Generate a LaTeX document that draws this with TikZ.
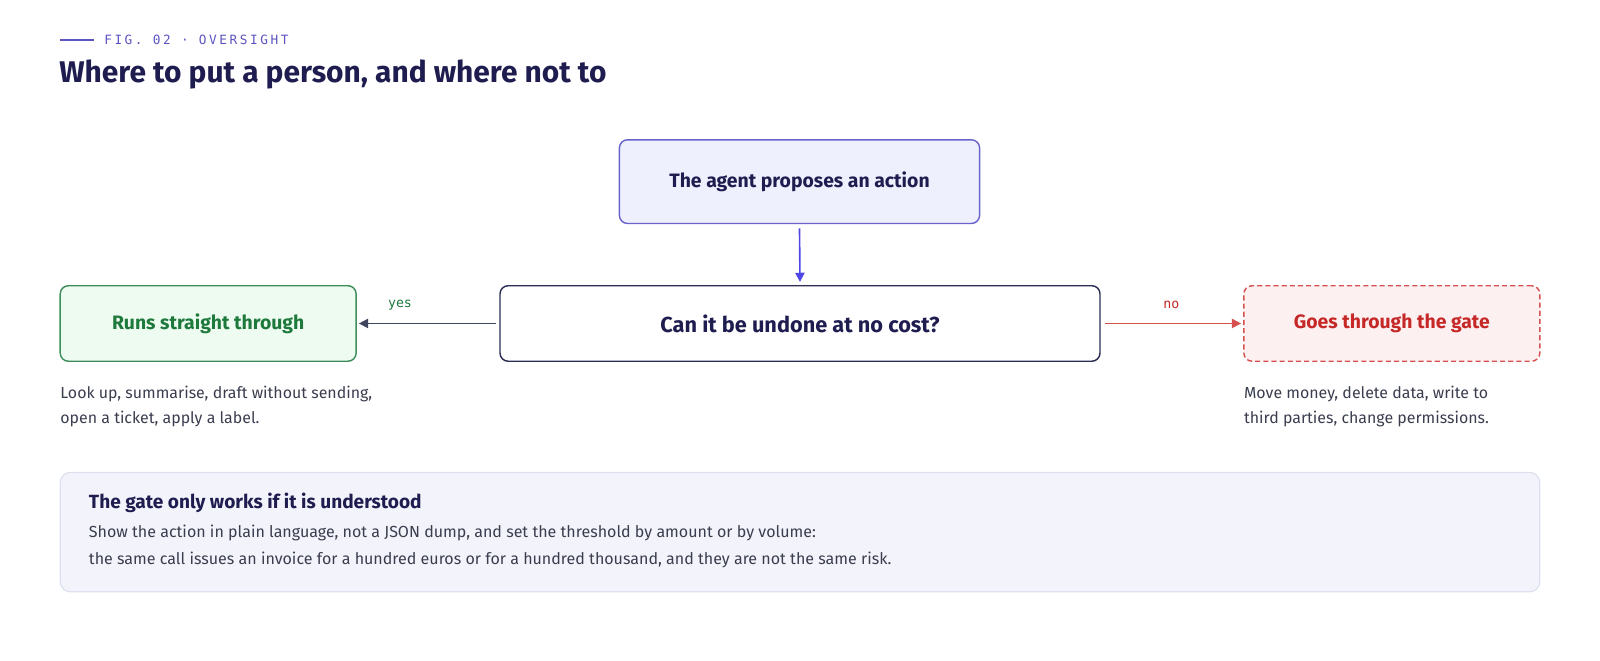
\documentclass[tikz,border=0pt]{standalone}
\usepackage{fontspec}
\setmainfont{Fira Sans}
\newfontfamily\monof[LetterSpace=20]{DejaVu Sans Mono}
\newfontfamily\monoplain{DejaVu Sans Mono}
\usetikzlibrary{arrows.meta}
\definecolor{navy}{HTML}{1F1D50}
\definecolor{accent}{HTML}{5B54C0}
\definecolor{topfill}{HTML}{EEF0FD}
\definecolor{topdraw}{HTML}{6B63CC}
\definecolor{downarrow}{HTML}{4F46E5}
\definecolor{decdraw}{HTML}{2B2D55}
\definecolor{gfill}{HTML}{EEFBF1}
\definecolor{gdraw}{HTML}{3E8E5C}
\definecolor{gtext}{HTML}{1E7A3C}
\definecolor{rfill}{HTML}{FDF0F0}
\definecolor{rdraw}{HTML}{D65050}
\definecolor{rtext}{HTML}{C62828}
\definecolor{grayarrow}{HTML}{404560}
\definecolor{desc}{HTML}{3A3D4E}
\definecolor{notefill}{HTML}{F3F4FB}
\definecolor{notedraw}{HTML}{DDE0EF}
\tikzset{
  box/.style={rounded corners=8pt, line width=1.4pt, align=center, inner sep=0pt},
  descr/.style={anchor=west, inner sep=0pt, text=desc, font=\fontsize{15.6}{18}\selectfont},
  notel/.style={anchor=west, inner sep=0pt, text=desc, font=\fontsize{15.7}{18}\selectfont},
  conn/.style={line width=1.6pt, -{Triangle[length=9pt,width=9pt]}},
  lbl/.style={font=\monoplain\fontsize{13}{15}\selectfont, inner sep=0pt}
}
\begin{document}
\begin{tikzpicture}[x=1pt,y=-1pt]
\useasboundingbox (0,0) rectangle (1568,647);
% header
\coordinate (hl1) at (59,39);
\coordinate (hl2) at (92,39);
\draw[accent, line width=1.7pt] (hl1) -- (hl2);
\node[anchor=west, inner sep=0pt, text=accent, font=\monof\fontsize{12.5}{14}\selectfont] (fig) at (102,39.5) {FIG. 02 · OVERSIGHT};
\node[anchor=west, inner sep=0pt, text=navy, font=\bfseries\fontsize{29.3}{32}\selectfont] (title) at (58,73) {Where to put a person, and where not to};
% boxes
\node[box, draw=topdraw, fill=topfill, minimum width=353pt, minimum height=82pt, text=navy, font=\bfseries\fontsize{19}{22}\selectfont] (top) at (783.5,178) {The agent proposes an action};
\node[box, draw=decdraw, fill=white, minimum width=588pt, minimum height=74pt, text=navy, font=\bfseries\fontsize{21.3}{24}\selectfont] (dec) at (784,317) {Can it be undone at no cost?};
\node[box, draw=gdraw, fill=gfill, minimum width=290pt, minimum height=74pt, text=gtext, font=\bfseries\fontsize{19}{22}\selectfont] (yesbox) at (204,317) {Runs straight through};
\node[box, draw=rdraw, fill=rfill, dashed, dash pattern=on 5pt off 3pt, minimum width=290pt, minimum height=74pt, text=rtext, font=\bfseries\fontsize{19}{22}\selectfont] (nobox) at (1364,317) {Goes through the gate};
% connectors
\draw[conn, downarrow] ([yshift=-4pt]top.south) -- ([yshift=3pt]dec.north);
\draw[conn, grayarrow] ([xshift=-3pt]dec.west) -- ([xshift=2pt]yesbox.east);
\draw[conn, rdraw] ([xshift=4pt]dec.east) -- ([xshift=-2pt]nobox.west);
\node[lbl, text=gtext] (yeslbl) at (392,299) {yes};
\node[lbl, text=rtext] (nolbl) at (1148,299) {no};
% descriptions
\node[descr] (ldesc1) at (59,386) {Look up, summarise, draft without sending,};
\node[descr] (ldesc2) at (59,411) {open a ticket, apply a label.};
\node[descr] (rdesc1) at (1219,386) {Move money, delete data, write to};
\node[descr] (rdesc2) at (1219,411) {third parties, change permissions.};
% note
\node[draw=notedraw, fill=notefill, rounded corners=10pt, line width=1.2pt, minimum width=1450pt, minimum height=117pt, inner sep=0pt] (note) at (784,521.5) {};
\node[anchor=west, inner sep=0pt, text=navy, font=\bfseries\fontsize{18.7}{22}\selectfont] (notetitle) at (87,493) {The gate only works if it is understood};
\node[notel] (note1) at (87,522) {Show the action in plain language, not a JSON dump, and set the threshold by amount or by volume:};
\node[notel] (note2) at (87,549) {the same call issues an invoice for a hundred euros or for a hundred thousand, and they are not the same risk.};
\end{tikzpicture}
\end{document}
